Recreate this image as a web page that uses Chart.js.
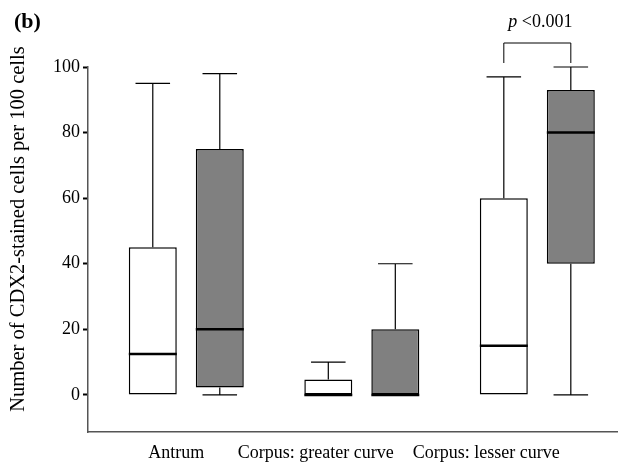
<!DOCTYPE html>
<html>
<head>
<meta charset="utf-8">
<script src="https://cdn.jsdelivr.net/npm/chart.js@4"></script>
<style>
  body { margin: 0; background: #fff; }
  #wrap { width: 636px; height: 462px; }
</style>
</head>
<body>
<div id="wrap"><canvas id="boxChart" width="636" height="462"></canvas></div>
<script>
// categories and tick labels
const categories = ["Antrum", "Corpus: greater curve", "Corpus: lesser curve"];
const yTicks = [0, 20, 40, 60, 80, 100];

// series 1 (white boxes)
const whiteMin = [0, 0, 0];
const whiteQ1 = [0, 0, 0];
const whiteMedian = [12.5, 0, 15];
const whiteQ3 = [45, 4.7, 60];
const whiteMax = [95, 10, 97];

// series 2 (grey boxes)
const greyMin = [0, 0, 0];
const greyQ1 = [2.3, 0, 40];
const greyMedian = [20, 0, 80];
const greyQ3 = [75, 20, 93];
const greyMax = [98, 40, 100];

const pText = "<0.001";

const FONT = "'Liberation Serif', 'Times New Roman', serif";

const series = [
  { min: whiteMin, q1: whiteQ1, med: whiteMedian, q3: whiteQ3, max: whiteMax },
  { min: greyMin, q1: greyQ1, med: greyMedian, q3: greyQ3, max: greyMax },
];

// whiskers, caps, medians, labels and the significance bracket
const boxExtras = {
  id: "boxExtras",
  afterDatasetsDraw(chart) {
    const ctx = chart.ctx;
    const y = chart.scales.y;
    ctx.save();
    ctx.strokeStyle = "#000";
    series.forEach((s, di) => {
      const meta = chart.getDatasetMeta(di);
      meta.data.forEach((bar, i) => {
        const half = bar.width / 2;
        const cap = bar.width * 0.36;
        const cx = bar.x;
        const yMin = y.getPixelForValue(s.min[i]);
        const yQ1 = y.getPixelForValue(s.q1[i]);
        const yQ3 = y.getPixelForValue(s.q3[i]);
        const yMax = y.getPixelForValue(s.max[i]);
        const yMed = y.getPixelForValue(s.med[i]);
        ctx.lineWidth = 1.2;
        ctx.beginPath();
        if (s.max[i] > s.q3[i]) {
          ctx.moveTo(cx, yQ3); ctx.lineTo(cx, yMax);
          ctx.moveTo(cx - cap, yMax); ctx.lineTo(cx + cap, yMax);
        }
        if (s.min[i] < s.q1[i]) {
          ctx.moveTo(cx, yQ1); ctx.lineTo(cx, yMin);
          ctx.moveTo(cx - cap, yMin); ctx.lineTo(cx + cap, yMin);
        }
        ctx.stroke();
        ctx.lineWidth = 2.5;
        ctx.beginPath();
        ctx.moveTo(cx - half, yMed); ctx.lineTo(cx + half, yMed);
        ctx.stroke();
      });
    });

    // bracket over the last category
    const a = chart.getDatasetMeta(0).data[2];
    const b = chart.getDatasetMeta(1).data[2];
    ctx.lineWidth = 1;
    ctx.beginPath();
    ctx.moveTo(a.x, 63); ctx.lineTo(a.x, 43); ctx.lineTo(b.x, 43); ctx.lineTo(b.x, 63);
    ctx.stroke();
    ctx.fillStyle = "#000";
    ctx.textBaseline = "alphabetic";
    ctx.font = "italic 18px " + FONT;
    const mid = (a.x + b.x) / 2 + 3;
    const pw = ctx.measureText("p ").width;
    ctx.font = "18px " + FONT;
    const tw = ctx.measureText(pText).width;
    const start = mid - (pw + tw) / 2;
    ctx.font = "italic 18px " + FONT;
    ctx.textAlign = "left";
    ctx.fillText("p ", start, 27);
    ctx.font = "18px " + FONT;
    ctx.fillText(pText, start + pw, 27);

    // category labels (the original sets them a little left of the boxes)
    const x = chart.scales.x;
    const shift = [-10, -46, -51];
    ctx.font = "18px " + FONT;
    ctx.textAlign = "center";
    categories.forEach((c, i) => {
      ctx.fillText(c, x.getPixelForValue(i) + shift[i], 458);
    });

    // axis title and panel letter
    ctx.save();
    ctx.translate(24, 229);
    ctx.rotate(-Math.PI / 2);
    ctx.font = "20.5px " + FONT;
    ctx.textAlign = "center";
    ctx.fillText("Number of CDX2-stained cells per 100 cells", 0, 0);
    ctx.restore();
    ctx.font = "bold 22px " + FONT;
    ctx.textAlign = "left";
    ctx.fillText("(b)", 14, 28);
    ctx.restore();
  },
};

new Chart(document.getElementById("boxChart"), {
  type: "bar",
  data: {
    datasets: [
      {
        data: categories.map((c, i) => ({ x: i, y: [series[0].q1[i], series[0].q3[i]] })),
        backgroundColor: "#ffffff",
        borderColor: "#000",
        borderWidth: 1.5,
        borderSkipped: false,
      },
      {
        data: categories.map((c, i) => ({ x: i, y: [series[1].q1[i], series[1].q3[i]] })),
        backgroundColor: "#808080",
        borderColor: "#000",
        borderWidth: 1.5,
        borderSkipped: false,
      },
    ],
  },
  options: {
    responsive: false,
    animation: false,
    categoryPercentage: 0.7635,
    barPercentage: 0.716,
    layout: { padding: { top: 67, right: 19, bottom: 0, left: 0 } },
    plugins: {
      legend: { display: false },
      tooltip: { enabled: false },
    },
    scales: {
      x: {
        type: "linear",
        offset: false,
        min: -0.56,
        max: 2.454,
        afterBuildTicks(scale) { scale.ticks = categories.map((c, i) => ({ value: i })); },
        ticks: { display: false },
        grid: { display: false, drawTicks: false, offset: false },
        border: { display: true, color: "#555", width: 1.5 },
        afterFit(scale) { scale.height = 30; },
      },
      y: {
        min: -11.3,
        max: 100,
        afterBuildTicks(scale) { scale.ticks = yTicks.map(v => ({ value: v })); },
        ticks: {
          color: "#000",
          padding: 3,
          font: { family: FONT, size: 18 },
        },
        grid: { drawOnChartArea: false, drawTicks: true, tickLength: 5, color: "#000", tickWidth: 2 },
        border: { display: true, color: "#555", width: 1.5 },
        afterFit(scale) { scale.width = 88; },
      },
    },
  },
  plugins: [boxExtras],
});
</script>
</body>
</html>
